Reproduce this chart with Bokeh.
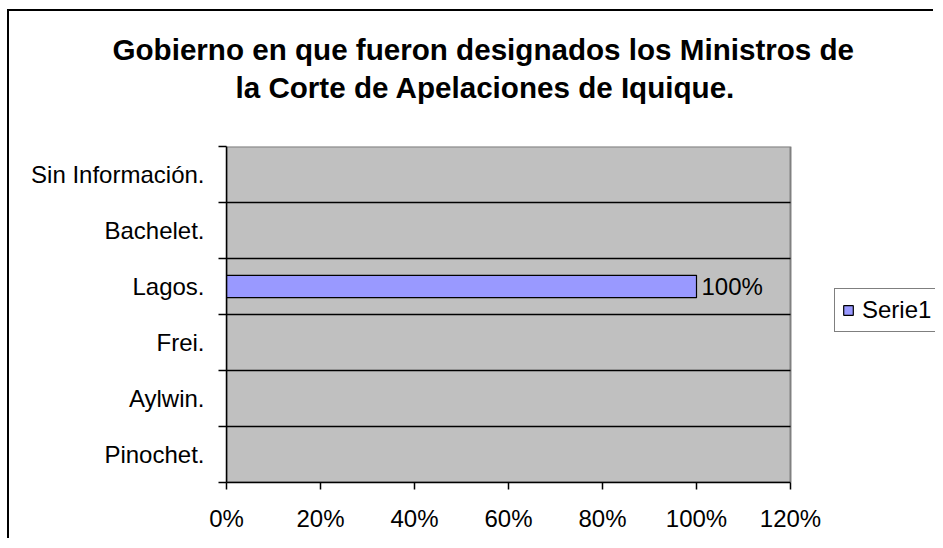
from bokeh.plotting import figure
from bokeh.models import (ColumnDataSource, Range1d, FixedTicker, NumeralTickFormatter,
                          Legend, LegendItem, Title)
from bokeh.core.properties import value
from bokeh.embed import file_html
from bokeh.resources import INLINE

# ---- data ----
categories = ["Pinochet.", "Aylwin.", "Frei.", "Lagos.", "Bachelet.", "Sin Información."]
values = [0.0, 0.0, 0.0, 1.0, 0.0, 0.0]
x_ticks = [0.0, 0.2, 0.4, 0.6, 0.8, 1.0, 1.2]
series_name = "Serie1"
title_lines = ["Gobierno en que fueron designados los Ministros de",
               "la Corte de Apelaciones de Iquique."]

FONT = "Liberation Sans"
FS = "24px"
BAR_COLOR = "#9999FF"
PLOT_BG = "#C0C0C0"

# ---- layout (pixels) ----
W, H = 926, 529
LEFT, TOP, BOTTOM = 217, 135, 58
PLOT_W = 564                       # width of the grey plot area
FRAME_W = W - LEFT                 # frame runs to the right edge (legend lives there)

n = len(categories)
xmax = x_ticks[-1]
centers = [i + 0.5 for i in range(n)]
boundaries = list(range(1, n))
shown = [i for i, v in enumerate(values) if v > 0]
src = ColumnDataSource(dict(
    y=[centers[i] for i in shown],
    right=[values[i] for i in shown],
    label=["{:.0%}".format(values[i]) for i in shown],
))

p = figure(width=W, height=H, output_backend="svg", toolbar_location=None,
           x_range=Range1d(0, xmax * FRAME_W / PLOT_W), y_range=Range1d(0, n),
           min_border_left=LEFT, min_border_right=0, min_border_top=TOP,
           min_border_bottom=BOTTOM)
p.styles = {"border-left": "2px solid black", "border-top": "2px solid black",
            "margin-left": "7px", "margin-top": "9px"}

p.background_fill_color = "white"
p.border_fill_color = "white"
p.outline_line_color = None

# grey plot area
p.quad(left=[0], right=[xmax], bottom=[0], top=[n], fill_color=PLOT_BG,
       line_color="#808080", line_width=2)

# horizontal gridlines at category boundaries, limited to the plot area
p.segment(x0=[0] * len(boundaries), x1=[xmax] * len(boundaries),
          y0=boundaries, y1=boundaries, line_color="black", line_width=1.5)

r = p.hbar(y="y", right="right", left=0, height=0.4, source=src,
           fill_color=BAR_COLOR, line_color="black", line_width=1.2)

p.text(x="right", y="y", text="label", source=src, x_offset=5,
       text_baseline="middle", text_align="left", text_font=value(FONT),
       text_font_size=FS, text_color="black")

# x axis
xa = p.xaxis[0]
xa.bounds = (0, xmax)
xa.ticker = FixedTicker(ticks=x_ticks)
xa.formatter = NumeralTickFormatter(format="0%")
xa.axis_line_color = "black"
xa.axis_line_width = 1.5
xa.major_tick_line_color = "black"
xa.major_tick_line_width = 1.5
xa.major_tick_out = 7
xa.major_tick_in = 0
xa.minor_tick_line_color = None
xa.major_label_text_font = FONT
xa.major_label_text_font_size = FS
xa.major_label_text_color = "black"
xa.major_label_standoff = 15

# y axis
ya = p.yaxis[0]
ya.ticker = FixedTicker(ticks=centers, minor_ticks=list(range(n + 1)))
ya.major_label_overrides = {c: lab for c, lab in zip(centers, categories)}
ya.axis_line_color = "black"
ya.axis_line_width = 1.5
ya.major_tick_line_color = None
ya.major_tick_out = 0
ya.major_tick_in = 0
ya.minor_tick_line_color = "black"
ya.minor_tick_line_width = 1.5
ya.minor_tick_out = 8
ya.minor_tick_in = 0
ya.major_label_text_font = FONT
ya.major_label_text_font_size = FS
ya.major_label_text_color = "black"
ya.major_label_standoff = 14

# grids (drawn as segments above instead)
p.xgrid.grid_line_color = None
p.ygrid.grid_line_color = None

# title: spacer nearest the frame, then second line, then first line
p.add_layout(Title(text=" ", standoff=30, text_font=FONT, text_font_size="10px"), "above")
p.add_layout(Title(text=title_lines[1], align="left", offset=9, standoff=0,
                   text_font=FONT, text_font_size="29.6px", text_font_style="bold",
                   text_color="black"), "above")
p.add_layout(Title(text=title_lines[0], align="left", offset=-114, standoff=6,
                   text_font=FONT, text_font_size="29.6px", text_font_style="bold",
                   text_color="black"), "above")

# legend (inside the wide frame, right of the grey area)
legend = Legend(items=[LegendItem(label=series_name, renderers=[r])],
                location=(608, 150), border_line_color="black", border_line_width=1.2,
                background_fill_color="white", background_fill_alpha=1,
                label_text_font=FONT, label_text_font_size=FS, label_text_color="black",
                glyph_width=12, glyph_height=12, padding=7, margin=0,
                label_standoff=8, label_height=20)
p.add_layout(legend, "center")

open("out.html", "w").write(file_html(p, INLINE))
